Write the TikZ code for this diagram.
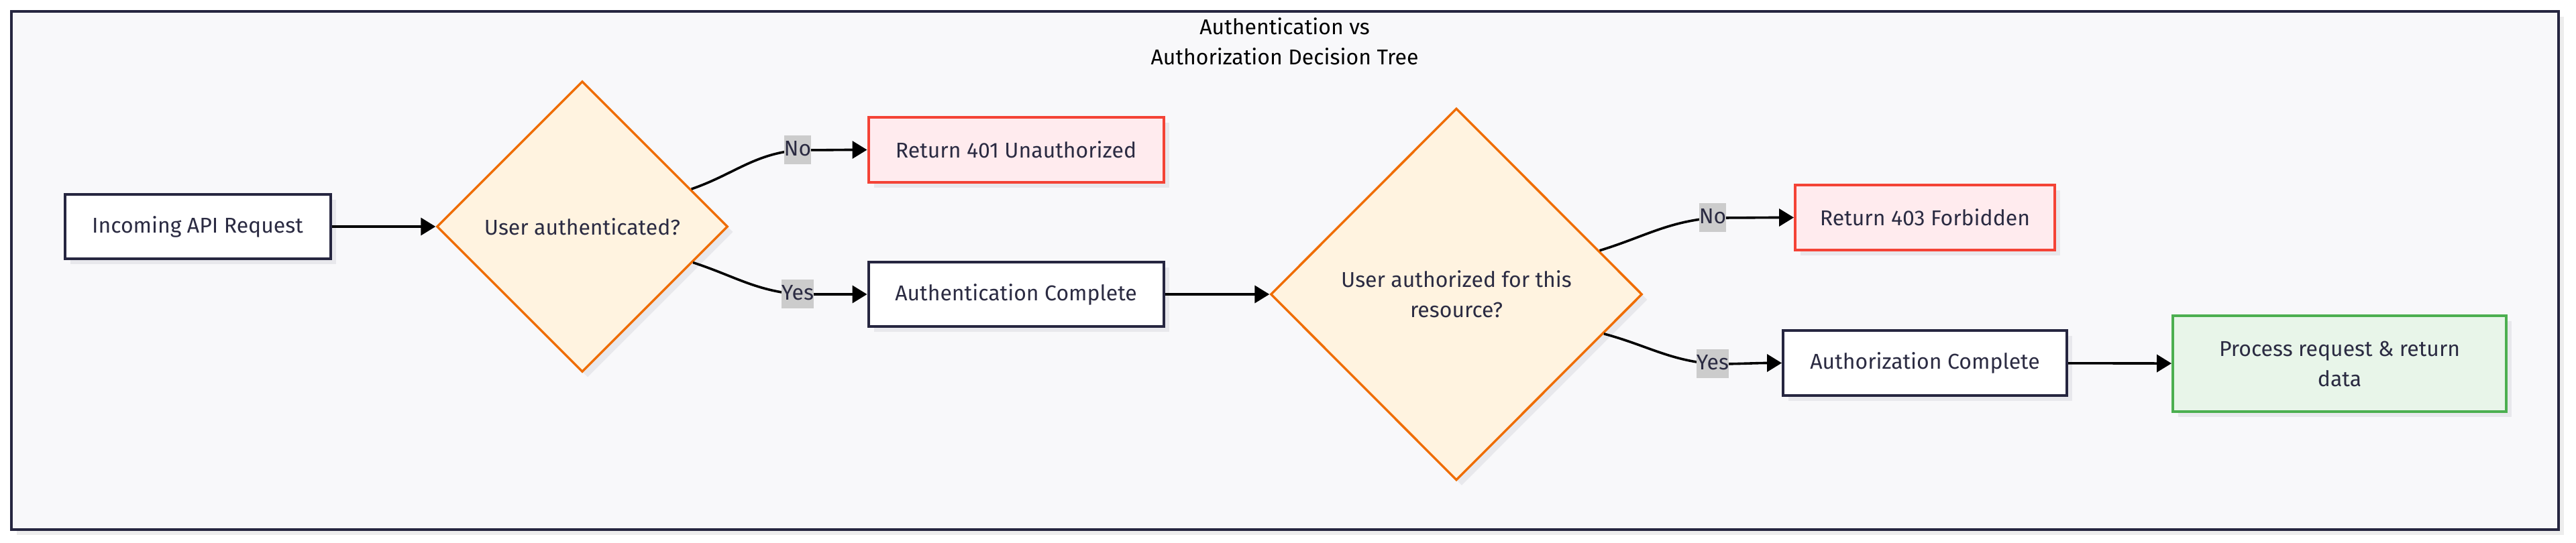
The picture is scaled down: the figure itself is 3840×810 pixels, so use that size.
\documentclass[tikz,border=0pt]{standalone}
\usepackage{fontspec}
\setmainfont{Fira Sans}
\usetikzlibrary{shapes.geometric,shadows,arrows.meta}
\definecolor{frame navy}{HTML}{262640}
\definecolor{text navy}{HTML}{2B2B42}
\definecolor{panel gray}{HTML}{F8F8FA}
\definecolor{shadow gray}{HTML}{E8E8EC}
\definecolor{check orange}{HTML}{EF6C00}
\definecolor{check fill}{HTML}{FFF3E0}
\definecolor{deny red}{HTML}{F44336}
\definecolor{deny fill}{HTML}{FFEBEE}
\definecolor{ok green}{HTML}{4CAF50}
\definecolor{ok fill}{HTML}{E8F5E9}
\definecolor{label gray}{HTML}{CCCCCC}

\begin{document}
\begin{tikzpicture}[x=0.25pt,y=-0.25pt,
  font=\fontsize{8pt}{11.25pt}\selectfont,text=text navy,
  boxshadow/.style={drop shadow={shadow xshift=2pt,shadow yshift=-2pt,fill=shadow gray,opacity=1}},
  plainbox/.style={draw=frame navy,line width=1pt,fill=white,inner sep=0pt,align=center,boxshadow},
  denybox/.style={plainbox,draw=deny red,fill=deny fill},
  okbox/.style={plainbox,draw=ok green,fill=ok fill},
  checkdiamond/.style={diamond,draw=check orange,fill=check fill,line width=0.85pt,inner sep=0pt,align=center,boxshadow},
  answer/.style={fill=label gray,inner xsep=0pt,inner ysep=0pt,minimum height=10.75pt,text height=6pt,text depth=1.5pt},
  flow/.style={draw=black,line width=0.9pt,-{Triangle[length=5.5pt,width=6.5pt]}}]
  \useasboundingbox (0,0) rectangle (3840,810);
  \draw[frame navy,line width=1pt,fill=panel gray,drop shadow={shadow xshift=2pt,shadow yshift=-2pt,fill=black!7,opacity=1}] (17,17) rectangle (3814,790);
  \node[align=center,text=black] (title) at (1915,61.5) {Authentication vs\\Authorization Decision Tree};

  \node[plainbox,minimum width=99pt,minimum height=24pt] (incoming request) at (294.5,338) {Incoming API Request};
  \node[checkdiamond,minimum width=108.5pt,minimum height=108.5pt] (authn check) at (868,338) {User authenticated?};
  \node[denybox,minimum width=110pt,minimum height=24.25pt] (return 401) at (1514.5,223.5) {Return 401 Unauthorized};
  \node[plainbox,minimum width=110pt,minimum height=24pt] (authn done) at (1514.5,439) {Authentication Complete};
  \node[checkdiamond,minimum width=138.5pt,minimum height=138.75pt] (authz check) at (2171,439) {User authorized for this\\resource?};
  \node[denybox,minimum width=96.75pt,minimum height=24.25pt] (return 403) at (2869.5,324.5) {Return 403 Forbidden};
  \node[plainbox,minimum width=105.75pt,minimum height=24.25pt] (authz done) at (2869.5,541.5) {Authorization Complete};
  \node[okbox,minimum width=124.25pt,minimum height=35.75pt] (process request) at (3487.5,542.5) {Process request \& return\\data};

  \coordinate (authn no at) at (1189,224);
  \coordinate (authn yes at) at (1189,439);
  \coordinate (authz no at) at (2553,325);
  \coordinate (authz yes at) at (2553,543);

  \draw[flow] (incoming request) -- (authn check);
  \draw[flow] (authn check.19) to[out=19,in=185] (authn no at) to[out=0,in=180] (return 401);
  \draw[flow] (authn check.-18) to[out=-18,in=175] (authn yes at) to[out=0,in=180] (authn done);
  \draw[flow] (authn done) -- (authz check);
  \draw[flow] (authz check.17) to[out=17,in=185] (authz no at) to[out=0,in=180] (return 403);
  \draw[flow] (authz check.-15) to[out=-15,in=175] (authz yes at) to[out=0,in=180] (authz done);
  \draw[flow] (authz done) -- (process request);

  \node[answer] (authn no) at (authn no at) {No};
  \node[answer] (authn yes) at (authn yes at) {Yes};
  \node[answer] (authz no) at (authz no at) {No};
  \node[answer] (authz yes) at (authz yes at) {Yes};
\end{tikzpicture}
\end{document}
